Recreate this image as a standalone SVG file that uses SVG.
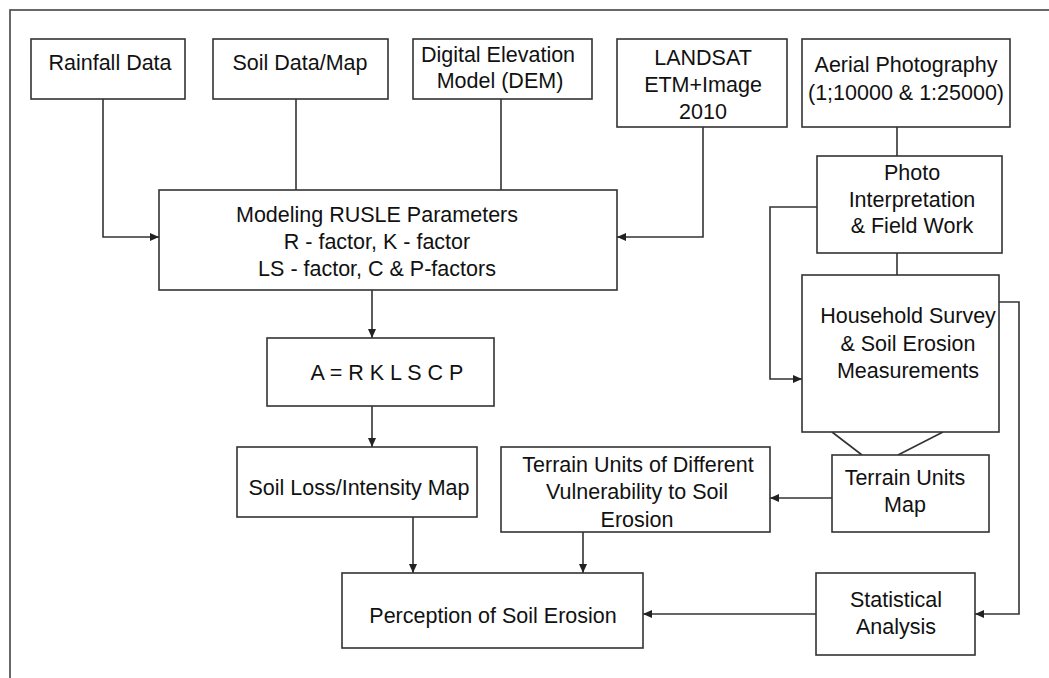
<svg xmlns="http://www.w3.org/2000/svg" width="1049" height="678" viewBox="0 0 1049 678">
<style>
.box{fill:#fff;stroke:#333;stroke-width:1.6}
.ln{fill:none;stroke:#333;stroke-width:1.6}
text{font-family:"Liberation Sans",Arial,sans-serif;font-size:21.5px;fill:#111;text-anchor:middle}
</style>
<defs>
<marker id="arr" markerUnits="userSpaceOnUse" markerWidth="10" markerHeight="10" refX="9" refY="4" orient="auto">
<path d="M0,0 L9,4 L0,8 z" fill="#222"/>
</marker>
</defs>
<rect x="10" y="10" width="1060" height="690" fill="#fff" stroke="#444" stroke-width="1.6"/>
<g id="connectors">
<polyline class="ln" points="103,99 103,237 159,237" marker-end="url(#arr)"/>
<line class="ln" x1="296" y1="99" x2="296" y2="190"/>
<line class="ln" x1="501" y1="99" x2="501" y2="190"/>
<polyline class="ln" points="703,127 703,237 617,237" marker-end="url(#arr)"/>
<line class="ln" x1="897" y1="127" x2="897" y2="156"/>
<line class="ln" x1="897" y1="253" x2="897" y2="275"/>
<polyline class="ln" points="817,207 770,207 770,379 802,379" marker-end="url(#arr)"/>
<polyline class="ln" points="999,302 1019,302 1019,614 975,614" marker-end="url(#arr)"/>
<line class="ln" x1="832" y1="432" x2="862" y2="455"/>
<line class="ln" x1="943" y1="432" x2="898" y2="455"/>
<line class="ln" x1="832" y1="498" x2="770" y2="498" marker-end="url(#arr)"/>
<line class="ln" x1="372" y1="290" x2="372" y2="338" marker-end="url(#arr)"/>
<line class="ln" x1="372" y1="406" x2="372" y2="447" marker-end="url(#arr)"/>
<line class="ln" x1="413" y1="517" x2="413" y2="573" marker-end="url(#arr)"/>
<line class="ln" x1="583" y1="532" x2="583" y2="573" marker-end="url(#arr)"/>
<line class="ln" x1="816" y1="614" x2="643" y2="614" marker-end="url(#arr)"/>
</g>
<g id="rainfall"><rect class="box" x="31" y="39" width="154" height="60"/><text x="110" y="70">Rainfall Data</text></g>
<g id="soil"><rect class="box" x="213" y="39" width="175" height="60"/><text x="300" y="70">Soil Data/Map</text></g>
<g id="dem"><rect class="box" x="413" y="39" width="179" height="60"/><text x="498" y="62">Digital Elevation</text><text x="500" y="88">Model (DEM)</text></g>
<g id="landsat"><rect class="box" x="617" y="39" width="170" height="88"/><text x="703" y="65">LANDSAT</text><text x="703" y="92">ETM+Image</text><text x="703" y="119">2010</text></g>
<g id="aerial"><rect class="box" x="802" y="39" width="208" height="88"/><text x="906" y="72">Aerial Photography</text><text x="906" y="100">(1;10000 &amp; 1:25000)</text></g>
<g id="photo"><rect class="box" x="817" y="156" width="185" height="97"/><text x="912" y="180">Photo</text><text x="912" y="207">Interpretation</text><text x="912" y="233">&amp; Field Work</text></g>
<g id="modeling"><rect class="box" x="159" y="190" width="458" height="100"/><text x="377" y="222">Modeling RUSLE Parameters</text><text x="377" y="249">R - factor, K - factor</text><text x="377" y="276">LS - factor, C &amp; P-factors</text></g>
<g id="household"><rect class="box" x="802" y="275" width="197" height="157"/><text x="908" y="323">Household Survey</text><text x="908" y="351">&amp; Soil Erosion</text><text x="908" y="378">Measurements</text></g>
<g id="equation"><rect class="box" x="267" y="338" width="227" height="68"/><text x="387" y="380">A = R K L S C P</text></g>
<g id="soilloss"><rect class="box" x="237" y="447" width="240" height="70"/><text x="359" y="495">Soil Loss/Intensity Map</text></g>
<g id="terrainvuln"><rect class="box" x="501" y="447" width="269" height="85"/><text x="638" y="472">Terrain Units of Different</text><text x="637" y="499">Vulnerability to Soil</text><text x="637" y="527">Erosion</text></g>
<g id="terrainmap"><rect class="box" x="832" y="455" width="157" height="77"/><text x="905" y="485">Terrain Units</text><text x="905" y="512">Map</text></g>
<g id="perception"><rect class="box" x="342" y="573" width="301" height="75"/><text x="493" y="623">Perception of Soil Erosion</text></g>
<g id="statistical"><rect class="box" x="816" y="573" width="159" height="82"/><text x="896" y="607">Statistical</text><text x="896" y="634">Analysis</text></g>
</svg>
